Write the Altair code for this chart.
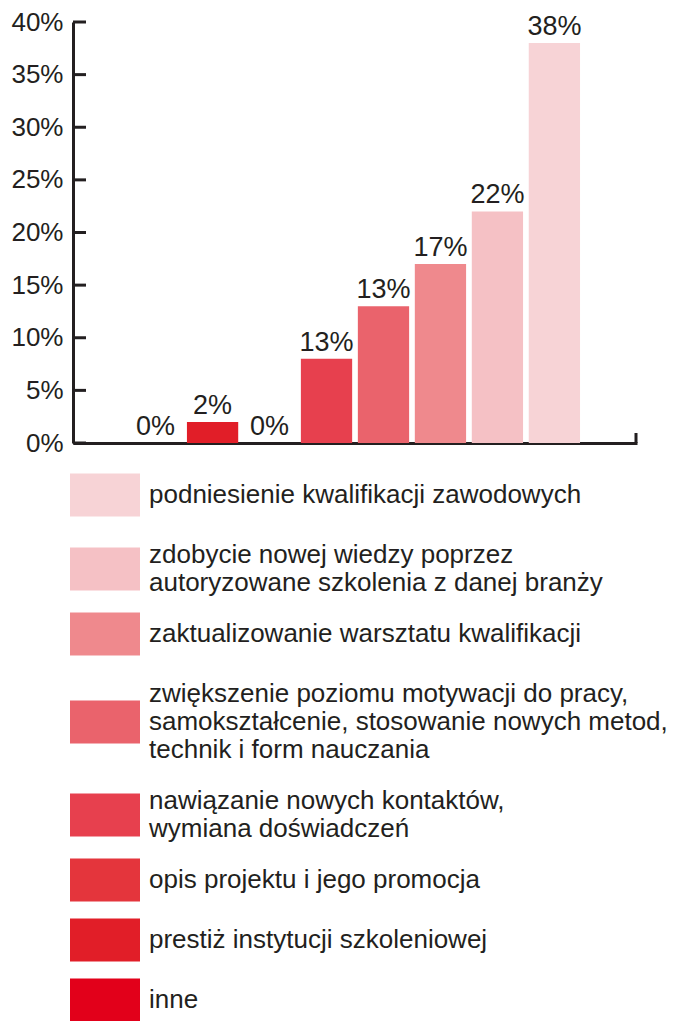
import altair as alt
import pandas as pd

# Bars, left to right
categories = [
    "inne",
    "prestiż instytucji szkoleniowej",
    "opis projektu i jego promocja",
    "nawiązanie nowych kontaktów,\nwymiana doświadczeń",
    "zwiększenie poziomu motywacji do pracy,\nsamokształcenie, stosowanie nowych metod,\ntechnik i form nauczania",
    "zaktualizowanie warsztatu kwalifikacji",
    "zdobycie nowej wiedzy poprzez\nautoryzowane szkolenia z danej branży",
    "podniesienie kwalifikacji zawodowych",
]
values = [0, 2, 0, 8, 13, 17, 22, 38]
value_labels = ["0%", "2%", "0%", "13%", "13%", "17%", "22%", "38%"]
colors = ["#E2001A", "#E11E28", "#E4353C", "#E7404E",
          "#EA636C", "#EF898D", "#F5C1C5", "#F7D3D6"]
y_ticks = [0, 5, 10, 15, 20, 25, 30, 35, 40]

legend_order = list(reversed(categories))
legend_colors = list(reversed(colors))

FONT = "Liberation Sans, Arial, sans-serif"
INK = "#231F20"
W, H = 564, 421

df = pd.DataFrame({"cat": categories, "value": values, "label": value_labels})
ticks_df = pd.DataFrame({"tick": y_ticks})

# legend swatch (70x43) shifted down so that it sits in the middle of a multi-line label
extra = "(length(split(datum.label, '\\n')) - 1)"
swatch_expr = ("'M-1,' + (-0.614 + 0.4*" + extra + ") + 'H1V' + (0.614 + 0.4*"
               + extra + ") + 'H-1Z'")

x_enc = alt.X("cat:N", sort=categories,
              scale=alt.Scale(paddingInner=0.1, paddingOuter=1),
              axis=alt.Axis(labels=False, ticks=False, title=None,
                            domainColor=INK, domainWidth=3))
y_scale = alt.Scale(domain=[0, 40], nice=False)

bars = alt.Chart(df).mark_bar().encode(
    x=x_enc,
    y=alt.Y("value:Q", scale=y_scale,
            axis=alt.Axis(values=y_ticks, labelExpr="datum.value + '%'",
                          title=None, grid=False, ticks=False, tickSize=0,
                          labelPadding=10, labelFont=FONT, labelFontSize=26,
                          labelColor=INK, domainColor=INK, domainWidth=3)),
    color=alt.Color("cat:N",
                    scale=alt.Scale(domain=legend_order, range=legend_colors),
                    legend=alt.Legend(
                        title=None, orient="none", legendX=-3, legendY=438,
                        direction="vertical", padding=0,
                        symbolType={"expr": swatch_expr}, symbolSize=4900,
                        symbolStrokeWidth=0, symbolOpacity=1,
                        labelFont=FONT, labelFontSize=26, labelColor=INK,
                        labelLimit=700, labelOffset=9, rowPadding=3,
                        labelExpr="split(datum.label, '\\n')")),
)

labels = alt.Chart(df).mark_text(
    dy=-8, baseline="alphabetic", font=FONT, fontSize=27, color=INK
).encode(x=alt.X("cat:N", sort=categories), y=alt.Y("value:Q"), text="label:N")

yticks = alt.Chart(ticks_df).mark_rule(color=INK, strokeWidth=3).encode(
    y=alt.Y("tick:Q"), x=alt.value(0), x2=alt.value(13)
)

end_tick = alt.Chart(ticks_df.head(1)).mark_rule(color=INK, strokeWidth=3).encode(
    x=alt.value(W - 1), y=alt.value(H - 10), y2=alt.value(H)
)

chart = alt.layer(bars, labels, yticks, end_tick).properties(
    width=W, height=H,
    padding={"left": 2, "top": 1, "right": 3, "bottom": 0},
).configure_view(stroke=None)

chart.save("out.html", embed_options={"renderer": "svg", "actions": False})
